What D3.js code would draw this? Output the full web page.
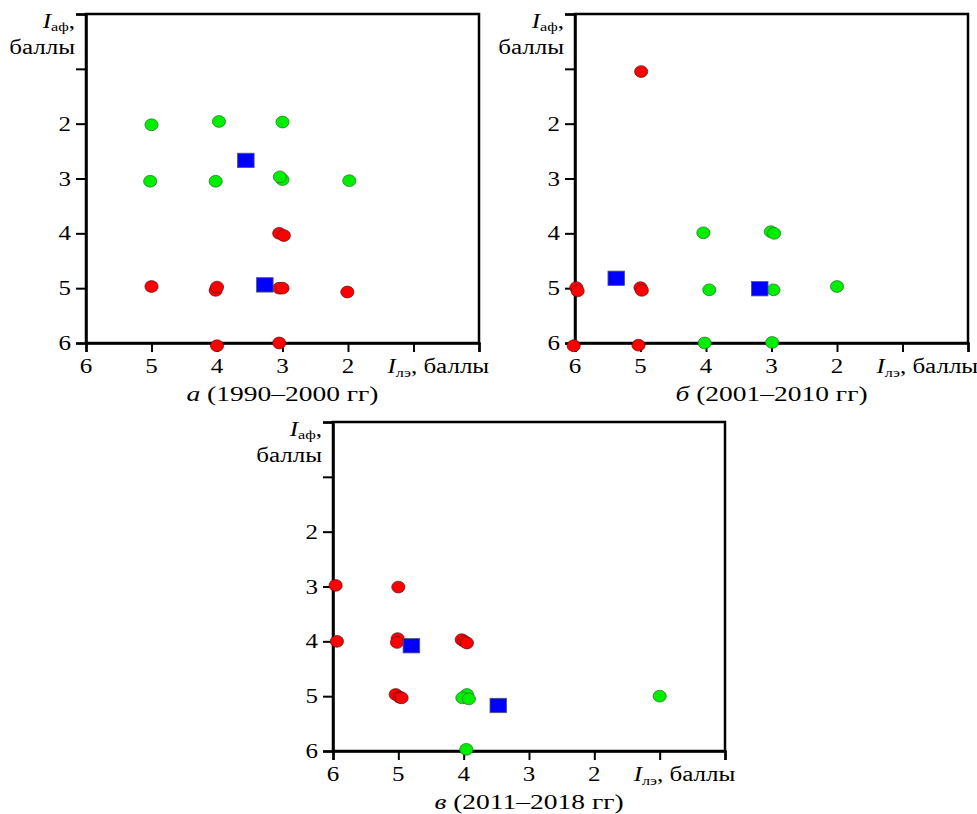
<!DOCTYPE html>
<html lang="ru">

<head>
    <title>Iаф / Iлэ</title>
    <meta charset="utf-8">
    <script src="https://d3js.org/d3.v7.min.js"></script>
    <style>
        body { margin: 0; background: #fff; }
        svg { display: block; }
        text { font-family: "Liberation Serif", "Times New Roman", serif; fill: #000; }
    </style>
</head>

<body>
    <div id="chart"></div>
    <script>
        // Data: [I_лэ, I_аф] pairs
        const greenA = [[5.0, 2.02], [3.97, 1.96], [3.0, 1.97], [5.02, 3.05], [4.02, 3.05],
            [3.0, 3.02], [3.04, 2.97], [1.98, 3.04]];
        const redA = [[3.05, 4.0], [2.98, 4.04], [5.0, 4.97], [4.02, 5.04], [4.0, 4.98],
            [3.05, 5.0], [3.0, 5.0], [2.01, 5.07], [4.0, 6.05], [3.05, 6.0]];
        const meanA = [[3.56, 2.67], [3.27, 4.94]];

        const greenB = [[4.04, 3.99], [3.01, 3.97], [2.96, 4.0], [3.95, 5.03], [2.97, 5.03],
            [2.0, 4.97], [4.02, 6.0], [2.99, 5.99]];
        const redB = [[4.99, 1.05], [5.98, 4.99], [5.96, 5.05], [5.0, 4.99], [4.98, 5.04],
            [6.02, 6.05], [5.03, 6.04]];
        const meanB = [[5.37, 4.82], [3.18, 5.01]];

        const greenC = [[3.95, 4.97], [4.02, 5.03], [3.92, 5.05], [1.0, 5.0], [3.96, 5.97]];
        const redC = [[5.96, 2.98], [5.0, 3.01], [5.94, 4.0], [5.01, 3.95], [5.02, 4.02],
            [4.03, 3.97], [3.99, 4.0], [3.95, 4.03], [5.04, 4.97], [4.98, 5.02], [4.95, 5.03]];
        const meanC = [[4.8, 4.08], [3.47, 5.17]];

        const xTicks = [6, 5, 4, 3, 2, 1, 0];
        const xTickLabels = ["6", "5", "4", "3", "2", "", ""];
        const yTicks = [0, 1, 2, 3, 4, 5, 6];
        const yTickLabels = ["", "", "2", "3", "4", "5", "6"];
        const captionLetters = ["а", "б", "в"];
        const captionYears = [" (1990–2000 гг)", " (2001–2010 гг)", " (2011–2018 гг)"];

        // Layout
        const W = 977, H = 814;
        const SX = 1.25; // picture is stretched horizontally
        const panels = [
            { left: 86, top: 14, w: 393, h: 329, green: greenA, red: redA, mean: meanA },
            { left: 575, top: 14, w: 393, h: 329, green: greenB, red: redB, mean: meanB },
            { left: 333, top: 422, w: 392, h: 329, green: greenC, red: redC, mean: meanC }
        ];

        const svg = d3.select("#chart").append("svg")
            .attr("width", W)
            .attr("height", H);

        function stretchedText(g, x, y, anchor, size) {
            return g.append("text")
                .attr("transform", `translate(${x},${y}) scale(${SX},1)`)
                .attr("text-anchor", anchor)
                .attr("font-size", size);
        }

        panels.forEach((p, i) => {
            const g = svg.append("g");

            const x = d3.scaleLinear().domain([6, 0]).range([p.left, p.left + p.w]);
            const y = d3.scaleLinear().domain([0, 6]).range([p.top, p.top + p.h]);

            // frame
            g.append("rect")
                .attr("x", x(6)).attr("y", y(0))
                .attr("width", x(0) - x(6)).attr("height", y(6) - y(0))
                .attr("fill", "none")
                .attr("stroke", "#000")
                .attr("stroke-width", 2.5);

            // axes
            const yAxis = g.append("g")
                .attr("transform", `translate(${x(6)},0)`)
                .call(d3.axisLeft(y).tickValues(yTicks).tickSize(10).tickFormat(""));
            const xAxis = g.append("g")
                .attr("transform", `translate(0,${y(6)})`)
                .call(d3.axisBottom(x).tickValues(xTicks).tickSize(9).tickFormat(""));
            [yAxis, xAxis].forEach(a => {
                a.select(".domain").attr("stroke", "#000").attr("stroke-width", 2.5);
                a.selectAll(".tick line").attr("stroke", "#000").attr("stroke-width", 2);
            });

            // tick labels
            yTicks.forEach((t, k) => {
                if (!yTickLabels[k]) return;
                stretchedText(g, x(6) - 15, y(t) + 7, "end", 20).text(yTickLabels[k]);
            });
            xTicks.forEach((t, k) => {
                if (!xTickLabels[k]) return;
                stretchedText(g, x(t), y(6) + 30, "middle", 20).text(xTickLabels[k]);
            });

            // axis titles
            const yt = stretchedText(g, x(6) - 11, y(0) + 14, "end", 20);
            yt.append("tspan").attr("font-style", "italic").text("I");
            yt.append("tspan").attr("font-size", 13).attr("dy", 3).text("аф");
            yt.append("tspan").attr("dy", -3).text(",");
            stretchedText(g, x(6) - 11, y(0) + 40, "end", 20).text("баллы");

            const xt = stretchedText(g, x(1) - 26, y(6) + 30, "start", 20);
            xt.append("tspan").attr("font-style", "italic").text("I");
            xt.append("tspan").attr("font-size", 13).attr("dy", 4).text("лэ");
            xt.append("tspan").attr("dy", -4).text(", баллы");

            // caption
            const cap = stretchedText(g, (x(6) + x(0)) / 2, y(6) + 58, "middle", 22);
            cap.append("tspan").attr("font-style", "italic").text(captionLetters[i]);
            cap.append("tspan").text(captionYears[i]);

            // markers
            g.selectAll(".green").data(p.green).join("ellipse")
                .attr("class", "green")
                .attr("cx", d => x(d[0])).attr("cy", d => y(d[1]))
                .attr("rx", 6.6).attr("ry", 5.9)
                .attr("fill", "#00ee00")
                .attr("stroke", "#2a6a2a").attr("stroke-width", 0.7);

            g.selectAll(".red").data(p.red).join("ellipse")
                .attr("class", "red")
                .attr("cx", d => x(d[0])).attr("cy", d => y(d[1]))
                .attr("rx", 6.6).attr("ry", 5.9)
                .attr("fill", "#ff0000")
                .attr("stroke", "#5a1010").attr("stroke-width", 0.7);

            g.selectAll(".mean").data(p.mean).join("rect")
                .attr("class", "mean")
                .attr("x", d => x(d[0]) - 8.3).attr("y", d => y(d[1]) - 7.2)
                .attr("width", 16.6).attr("height", 14.4)
                .attr("fill", "#0000ff")
                .attr("stroke", "#555577").attr("stroke-width", 0.8);
        });
    </script>
</body>

</html>
